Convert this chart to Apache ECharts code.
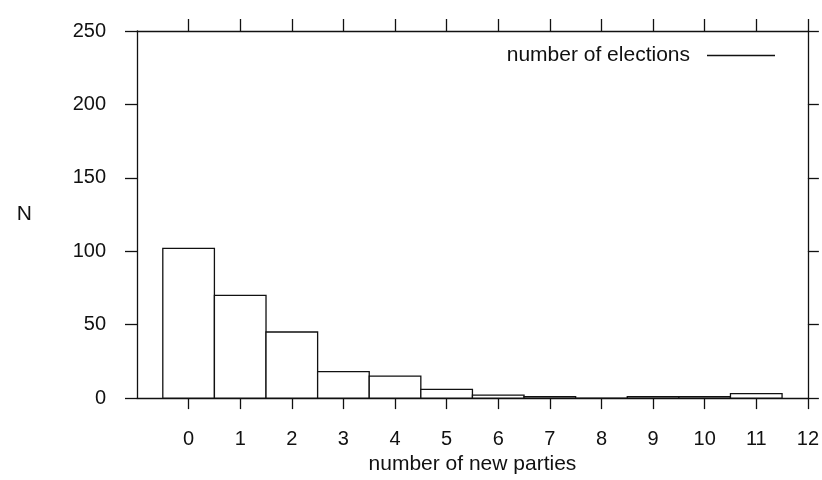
<!DOCTYPE html>
<html>
<head>
<meta charset="utf-8">
<script src="https://cdn.jsdelivr.net/npm/echarts@6/dist/echarts.min.js"></script>
<style>
html,body{margin:0;padding:0;background:#fff;}
#chart{width:822px;height:480px;}
</style>
</head>
<body>
<div id="chart"></div>
<script>
// Data
const newParties = [0, 1, 2, 3, 4, 5, 6, 7, 8, 9, 10, 11];
const elections  = [102, 70, 45, 18, 15, 6, 2, 1, 0, 1, 1, 3];
const xTickValues = [0, 1, 2, 3, 4, 5, 6, 7, 8, 9, 10, 11, 12];
const seriesName = 'number of elections';
const xName = 'number of new parties';
const yName = 'N';

const font = '"Liberation Sans", Arial, Helvetica, sans-serif';
const ink = '#111';
const lw = 1.3;

const chart = echarts.init(document.getElementById('chart'), null, {renderer: 'canvas'});

const axisCommonX = {
  type: 'value', min: -1, max: 12, interval: 1,
  axisLine: {show: true, onZero: false, lineStyle: {color: ink, width: lw}},
  splitLine: {show: false}
};

chart.setOption({
  animation: false,
  backgroundColor: '#fff',
  grid: {left: 137, right: 14, top: 31, bottom: 74},
  legend: {
    right: 42, top: 40,
    align: 'right',
    itemWidth: 68, itemHeight: 1.5,
    icon: 'rect',
    data: [{name: seriesName, itemStyle: {color: ink}}],
    textStyle: {fontFamily: font, fontSize: 21, color: ink, padding: [0, 12, 0, 0]}
  },
  xAxis: [
    Object.assign({}, axisCommonX, {
      position: 'bottom',
      name: xName, nameLocation: 'middle', nameGap: 49,
      nameTextStyle: {fontFamily: font, fontSize: 21, color: ink},
      axisTick: {show: true, inside: false, length: 11, customValues: xTickValues, lineStyle: {color: ink, width: lw}},
      axisLabel: {show: true, customValues: xTickValues, margin: 31, fontFamily: font, fontSize: 20, color: ink}
    }),
    Object.assign({}, axisCommonX, {
      position: 'top',
      axisTick: {show: true, inside: false, length: 12, customValues: xTickValues, lineStyle: {color: ink, width: lw}},
      axisLabel: {show: false}
    })
  ],
  yAxis: [
    {
      type: 'value', min: 0, max: 250, interval: 50, position: 'left',
      name: yName, nameLocation: 'middle', nameRotate: 0, nameGap: 105,
      nameTextStyle: {fontFamily: font, fontSize: 21, color: ink},
      axisLine: {show: true, onZero: false, lineStyle: {color: ink, width: lw}},
      axisTick: {show: true, inside: false, length: 12, lineStyle: {color: ink, width: lw}},
      axisLabel: {show: true, margin: 31, fontFamily: font, fontSize: 20, color: ink},
      splitLine: {show: false}
    },
    {
      type: 'value', min: 0, max: 250, interval: 50, position: 'right',
      axisLine: {show: true, onZero: false, lineStyle: {color: ink, width: lw}},
      axisTick: {show: true, inside: false, length: 11, lineStyle: {color: ink, width: lw}},
      axisLabel: {show: false},
      splitLine: {show: false}
    }
  ],
  series: [{
    name: seriesName,
    type: 'custom',
    xAxisIndex: 0, yAxisIndex: 0,
    itemStyle: {color: ink},
    encode: {x: 0, y: 1},
    data: newParties.map((v, i) => [v, elections[i]]),
    renderItem: function (params, api) {
      const x = api.value(0), y = api.value(1);
      const p0 = api.coord([x - 0.5, 0]);
      const p1 = api.coord([x + 0.5, y]);
      return {
        type: 'rect',
        shape: {x: p0[0], y: p1[1], width: p1[0] - p0[0], height: p0[1] - p1[1]},
        style: {fill: '#fff', stroke: ink, lineWidth: lw}
      };
    }
  }]
});
</script>
</body>
</html>
